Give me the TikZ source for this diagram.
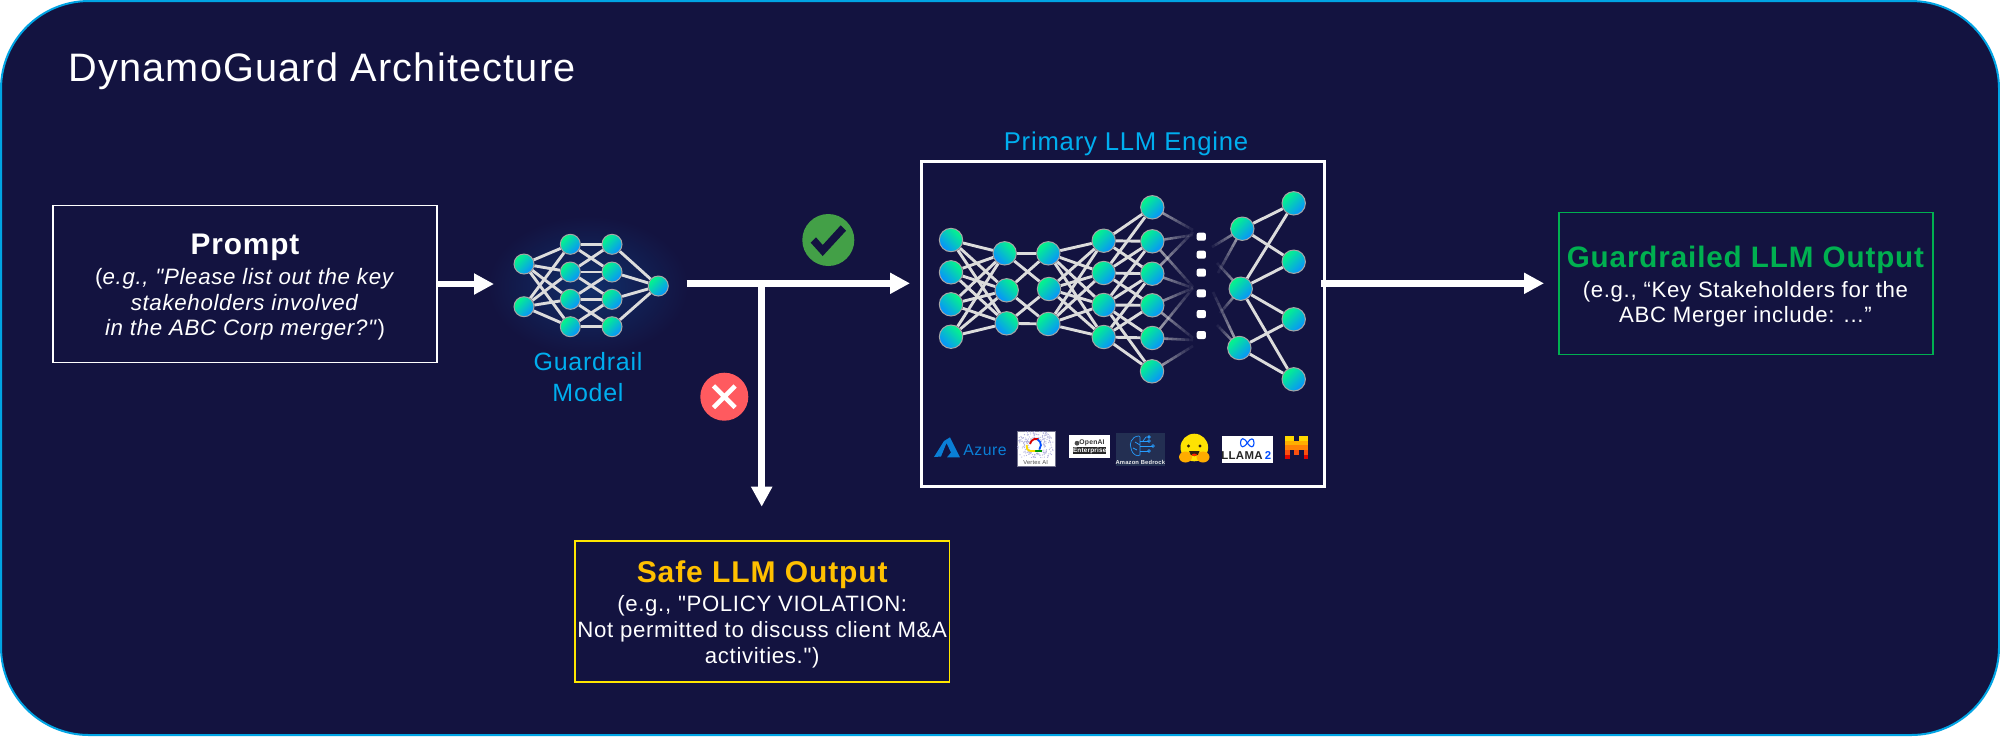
\documentclass[tikz,border=0pt]{standalone}
\usepackage{fontspec}
\setmainfont{Liberation Sans}[LetterSpace=3,Ligatures=TeXOff]
\usetikzlibrary{arrows.meta,backgrounds,calc}
\definecolor{bgc}{HTML}{131340}
\definecolor{rimc}{HTML}{00A4E4}
\definecolor{cyanc}{HTML}{00AEEF}
\definecolor{nng}{HTML}{04F888}
\definecolor{nnb}{HTML}{0890FF}
\definecolor{edgec}{HTML}{DCDCDC}
\definecolor{okc}{HTML}{43A047}
\definecolor{noc}{HTML}{FF5A5F}
\definecolor{safec}{HTML}{FFC000}
\definecolor{safeb}{HTML}{FFE600}
\definecolor{greenc}{HTML}{00B050}
\definecolor{azc}{HTML}{0A7FD6}
\definecolor{brc}{HTML}{232F52}
\tikzset{
  x=0.5pt,y=-0.5pt,
  boxnode/.style={draw,line width=0.65pt,fill=bgc,inner sep=0pt,rectangle},
  txt/.style={text=white,align=center,inner sep=0pt,anchor=base},
  nnA/.style={circle,draw=#1,line width=0.5pt,inner sep=0pt,top color=nng,bottom color=nnb,shading angle=-45},
  nnB/.style={circle,draw=#1,line width=0.5pt,inner sep=0pt,top color=nng,bottom color=nnb,shading angle=45},
  nnedge/.style={draw=edgec,line width=1.45pt},
  flow/.style={draw=white,line width=3.3pt,-{Triangle[length=10pt,width=10pt]}},
}
\newcommand{\fadeedge}[2]{%
  \foreach \k in {0,...,9}{%
    \pgfmathsetmacro{\kn}{(\k+1)/10}\pgfmathsetmacro{\ks}{\k/10}\pgfmathsetmacro{\op}{0.8*(1-\k/10)}%
    \draw[draw=edgec,line width=1.3pt,opacity=\op] ($(#1)!\ks!(#2)$) -- ($(#1)!\kn!(#2)$);}}
\begin{document}
\begin{tikzpicture}
\useasboundingbox (0,0) rectangle (2000,736);
\begin{scope}[on background layer]
  \fill[white] (0,0) rectangle (2000,736);
  \draw[draw=rimc,fill=bgc,line width=1pt,rounded corners=44pt] (1,1) rectangle (1999,735);
  \shade[inner color=nnb!22!bgc,outer color=bgc] (588,286) ellipse [x radius=100,y radius=70];
\end{scope}
% title
\node[txt,anchor=base west] (title) at (68,81.7) {\fontsize{19.85}{22}\selectfont DynamoGuard Architecture};
% prompt
\node[boxnode,draw=white,minimum width=192pt,minimum height=78.8pt] (prompt) at (245,284) {};
\node[txt,font=\fontsize{11.15}{12.85}\selectfont] (prompttext) at (245,335.7) {{\fontsize{14.9}{16}\selectfont\bfseries Prompt}\\[2.1pt]
(\textit{e.g., "Please list out the key}\\ \textit{stakeholders involved}\\ \textit{in the ABC Corp merger?"})};
% guardrail net
\foreach \n/\x/\y in {i1/524/264,i2/524/306.7,a1/570.3/244.3,a2/570.3/272,a3/570.3/299.3,a4/570.3/326.7,b1/612/244.3,b2/612/272,b3/612/299.3,b4/612/326.7,o1/658.3/286}
  \node[nnB=gray!70!white,minimum size=10pt] (g\n) at (\x,\y) {};
\begin{scope}[on background layer]
  \foreach \a in {1,2}\foreach \b in {1,2,3,4}\draw[nnedge] (gi\a)--(ga\b);
  \foreach \a/\b in {1/1,1/2,2/1,2/2,2/3,3/2,3/3,3/4,4/3,4/4}\draw[nnedge] (ga\a)--(gb\b);
  \foreach \a in {1,2,3,4}\draw[nnedge] (gb\a)--(go1);
\end{scope}
\node[txt,text=cyanc,font=\fontsize{12.5}{15.5}\selectfont] (gl) at (588,401) {Guardrail\\Model};
% LLM box
\node[draw=white,line width=1.5pt,inner sep=0pt,minimum width=201.5pt,minimum height=162.2pt] (llm) at (1122.5,323.8) {};
\node[txt,text=cyanc,font=\fontsize{12.85}{15}\selectfont] (llml) at (1126,150) {Primary LLM Engine};
\foreach \n/\x/\y in {p1/951/240,p2/951/272.3,p3/951/304.3,p4/951/336.7,q1/1004.7/253.3,q2/1006.7/290.3,q3/1006.7/323.3}
  \node[nnA=gray!70!white,minimum size=11.7pt] (\n) at (\x,\y) {};
\foreach \n/\x/\y in {r1/1048.3/253.3,r2/1049/289,r3/1048.3/324,s1/1103.7/240.7,s2/1103.7/273,s3/1103.7/305,s4/1103.7/337,t1/1152.3/207.3,t2/1152.3/241.3,t3/1152.3/273.7,t4/1152.3/305.3,t5/1152.3/338,t6/1152/371.3,u1/1242.3/228.7,u2/1240.7/288.7,u3/1239.3/348,v1/1293.7/203.3,v2/1293.7/261.7,v3/1293.7/319.3,v4/1293.7/379.3}
  \node[nnB=gray!70!white,minimum size=11.7pt] (\n) at (\x,\y) {};
\foreach \n/\y in {1/236.7,2/254.7,3/272.7,4/293.3,5/314,6/335}
  \node[fill=white,rounded corners=1pt,inner sep=0pt,minimum width=4.6pt,minimum height=4pt] (d\n) at (1201.3,\y) {};
\foreach \n/\x/\y in {f1/1193/230,f2/1193/235,f3/1193/287,f4/1193/232,f5/1193/288,f6/1193/288,f7/1193/338,f8/1193/288,f9/1193/340,f10/1193/346,h1/1212/247,h2/1218/273,h3/1217/263,h4/1220/313,h5/1213/292,h6/1217/325}
  \coordinate (\n) at (\x,\y);
\begin{scope}[on background layer]
  \foreach \a in {1,2,3,4}\foreach \b in {1,2,3}\draw[nnedge] (p\a)--(q\b);
  \foreach \a/\b in {1/1,1/2,2/1,2/3,3/2,3/3}\draw[nnedge] (q\a)--(r\b);
  \foreach \a in {1,2,3}\foreach \b in {1,2,3,4}\draw[nnedge] (r\a)--(s\b);
  \foreach \a/\b in {1/1,1/2,1/3,2/1,2/2,2/3,2/4,3/2,3/3,3/4,3/5,3/6,4/3,4/4,4/5,4/6}\draw[nnedge] (s\a)--(t\b);
  \foreach \a/\b in {1/1,1/2,2/1,2/2,2/3,2/4,3/3,3/4}\draw[nnedge] (u\a)--(v\b);
  \fadeedge{t1}{f1}\fadeedge{t2}{f2}\fadeedge{t2}{f3}\fadeedge{t3}{f4}\fadeedge{t3}{f5}
  \fadeedge{t4}{f6}\fadeedge{t4}{f7}\fadeedge{t5}{f8}\fadeedge{t5}{f9}\fadeedge{t6}{f10}
  \fadeedge{u1}{h1}\fadeedge{u1}{h2}\fadeedge{u2}{h3}\fadeedge{u2}{h4}\fadeedge{u3}{h5}\fadeedge{u3}{h6}
\end{scope}
% logos
\fill[azc] (934,457) -- (944,441) -- (950,437.3) -- (960,457.3) -- (947,457.3) -- (951,452.5) -- (946.5,443) -- (941,456.5) -- cycle;
\node[inner sep=0pt,anchor=base west,text=azc] (azure) at (963,455) {\fontsize{7.9}{9}\selectfont Azure};
\node[fill=white,draw=bgc!60!white,line width=0.2pt,inner sep=0pt,minimum width=19pt,minimum height=17.5pt] (vx) at (1035.7,448.2) {};
\begin{scope}
  \clip (1017,431) rectangle (1054.5,457);
  \pgfmathsetseed{7}
  \foreach \i in {1,...,260}{
    \pgfmathsetmacro{\ra}{rnd*360}\pgfmathsetmacro{\rb}{7+rnd*11.5}
    \fill[blue!40!gray!45!white] ($(1035.7,445.7)+(\ra:\rb*0.5pt)$) circle (0.3pt);}
\end{scope}
\draw[red!85!black,line width=0.9pt] (1030,444) arc[start angle=170,end angle=70,radius=3.2pt];
\draw[blue!70!cyan,line width=0.9pt] (1037.5,439.3) arc[start angle=60,end angle=-40,radius=3.4pt];
\draw[green!60!black,line width=0.9pt] (1042,451) -- (1035,451);
\draw[yellow!80!orange,line width=0.9pt] (1035,451) -- (1031,451) arc[start angle=270,end angle=160,radius=2.3pt];
\node[inner sep=0pt,text=black!70] (vxl) at (1035.7,462.3) {\fontsize{2.9}{3}\selectfont Vertex AI};
\node[fill=white,inner sep=0pt,minimum width=20.5pt,minimum height=11.5pt] (oa) at (1089.5,446.8) {};
\fill[black!70] (1077,443.2) circle (1.2pt);
\node[inner sep=0pt,text=black!80] (oal) at (1092,443.2) {\fontsize{3.4}{4}\selectfont\bfseries OpenAI};
\node[fill=black!85,inner sep=0pt,minimum width=16pt,minimum height=3.8pt,text=white] (oae) at (1089.7,450.5) {\fontsize{3.2}{4}\selectfont\bfseries Enterprise};
\node[fill=brc,inner sep=0pt,minimum width=24.3pt,minimum height=16.5pt] (br) at (1140.3,449.5) {};
\begin{scope}[draw=blue!45!cyan!85!white,line width=0.35pt]
  \draw (1139,436) .. controls (1131,436) and (1129,445) .. (1131,448) .. controls (1132,455) and (1138,457) .. (1140,455) -- (1140,437) -- cycle;
  \draw (1135,442) -- (1140,445) (1133,448) -- (1137,450);
  \draw (1140,441) -- (1149,441) (1140,446) -- (1153,446) (1140,451) -- (1149,451);
  \draw (1143,441) -- (1146,437) -- (1149,437) (1149,441) circle (0.7pt) (1153,446) circle (0.7pt) (1149,451) circle (0.7pt) (1149,437) circle (0.7pt);
\end{scope}
\node[inner sep=0pt,text=white!85!gray] (brl) at (1140.3,462.3) {\fontsize{2.9}{4}\selectfont\bfseries Amazon Bedrock};
% hugging face
\fill[yellow!85!orange] (1194.3,447.5) circle (6.9pt);
\fill[orange!65!yellow] (1185.5,457) ellipse [x radius=6.5,y radius=5.5] (1203,457) ellipse [x radius=6.5,y radius=5.5];
\fill[black!75!brown] (1188.5,446) circle (0.8pt) (1200,446) circle (0.8pt);
\fill[black!75!brown] (1189,451) -- (1199.5,451) arc[start angle=0,end angle=-180,radius=2.6pt] -- cycle;
\fill[red!70!orange] (1194.3,454.8) ellipse [x radius=2.5,y radius=1.2];
% llama
\node[fill=white,inner sep=0pt,minimum width=25.7pt,minimum height=13.4pt] (ll) at (1247.6,449.3) {};
\draw[blue!70!cyan,line width=0.55pt] (1247.3,443) .. controls (1244,437) and (1240.5,437.5) .. (1240.5,443) .. controls (1240.5,448) and (1244,448) .. (1247.3,443) .. controls (1250.5,437.5) and (1254,437.5) .. (1254,443) .. controls (1254,448) and (1250.5,448) .. (1247.3,443);
\node[inner sep=0pt,text=black!85] (lla) at (1242,456) {\fontsize{5.7}{6}\selectfont\bfseries LLAMA};
\node[inner sep=0pt,text=blue!70!cyan] (llb) at (1268,456) {\fontsize{5.7}{6}\selectfont\bfseries 2};
% mistral
\foreach \r/\c/\cells in {0/FFD800/{0,1,3,4},1/FFAF00/{0,1,2,3,4},2/FF8205/{0,1,2,3,4},3/FA500F/{0,2,4},4/E10500/{0,4}}{
  \definecolor{mc}{HTML}{\c}
  \foreach \q in \cells \fill[mc] ({1285+\q*4.66},{436+\r*4.66}) rectangle ({1285+(\q+1)*4.66},{436+(\r+1)*4.66});
}
% check and cross
\node[circle,fill=okc,inner sep=0pt,minimum size=26pt] (ok) at (828.3,240) {};
\fill[bgc] (810.7,242.7) -- (822.7,256) -- (846,230.7) -- (840.7,225.3) -- (822.7,245) -- (816,237.3) -- cycle;
\node[circle,fill=noc,inner sep=0pt,minimum size=24pt] (no) at (724.3,396.7) {};
\draw[white,line width=2.3pt] (713.5,385.9) -- (735.1,407.5) (713.5,407.5) -- (735.1,385.9);
% safe box
\node[boxnode,draw=safeb,line width=0.85pt,minimum width=187.2pt,minimum height=70.5pt] (safe) at (762.2,611.5) {};
\node[txt,font=\fontsize{11.1}{12.85}\selectfont] (safetext) at (762.2,663.3) {{\fontsize{15}{16}\selectfont\bfseries\color{safec} Safe LLM Output}\\[2.1pt]
(e.g., "POLICY VIOLATION:\\ Not permitted to discuss client M\&A\\ activities.")};
% guardrailed box
\node[boxnode,draw=greenc,minimum width=187pt,minimum height=70.8pt] (gout) at (1746,283.5) {};
\node[txt,font=\fontsize{11.1}{12.85}\selectfont] (gouttext) at (1745.4,322.7) {{\fontsize{14.8}{16}\selectfont\bfseries\color{greenc} Guardrailed LLM Output}\\[2.1pt]
(e.g., “Key Stakeholders for the\\ ABC Merger include: ...”};
% connectors
\coordinate (gin) at (494,284);
\coordinate (fstart) at (686.7,283.3);
\coordinate (fend) at (910,283.3);
\coordinate (fork) at (761.7,283.3);
\coordinate (lout) at (1320.8,283.3);
\coordinate (gtip) at (1544,283.3);
\coordinate (stip) at (761.7,506.7);
\draw[flow] (prompt.east|-gin) -- (gin);
\draw[flow] (fstart) -- (fend);
\draw[flow] (fork) -- (stip);
\draw[flow] (lout) -- (gtip);
\end{tikzpicture}
\end{document}
